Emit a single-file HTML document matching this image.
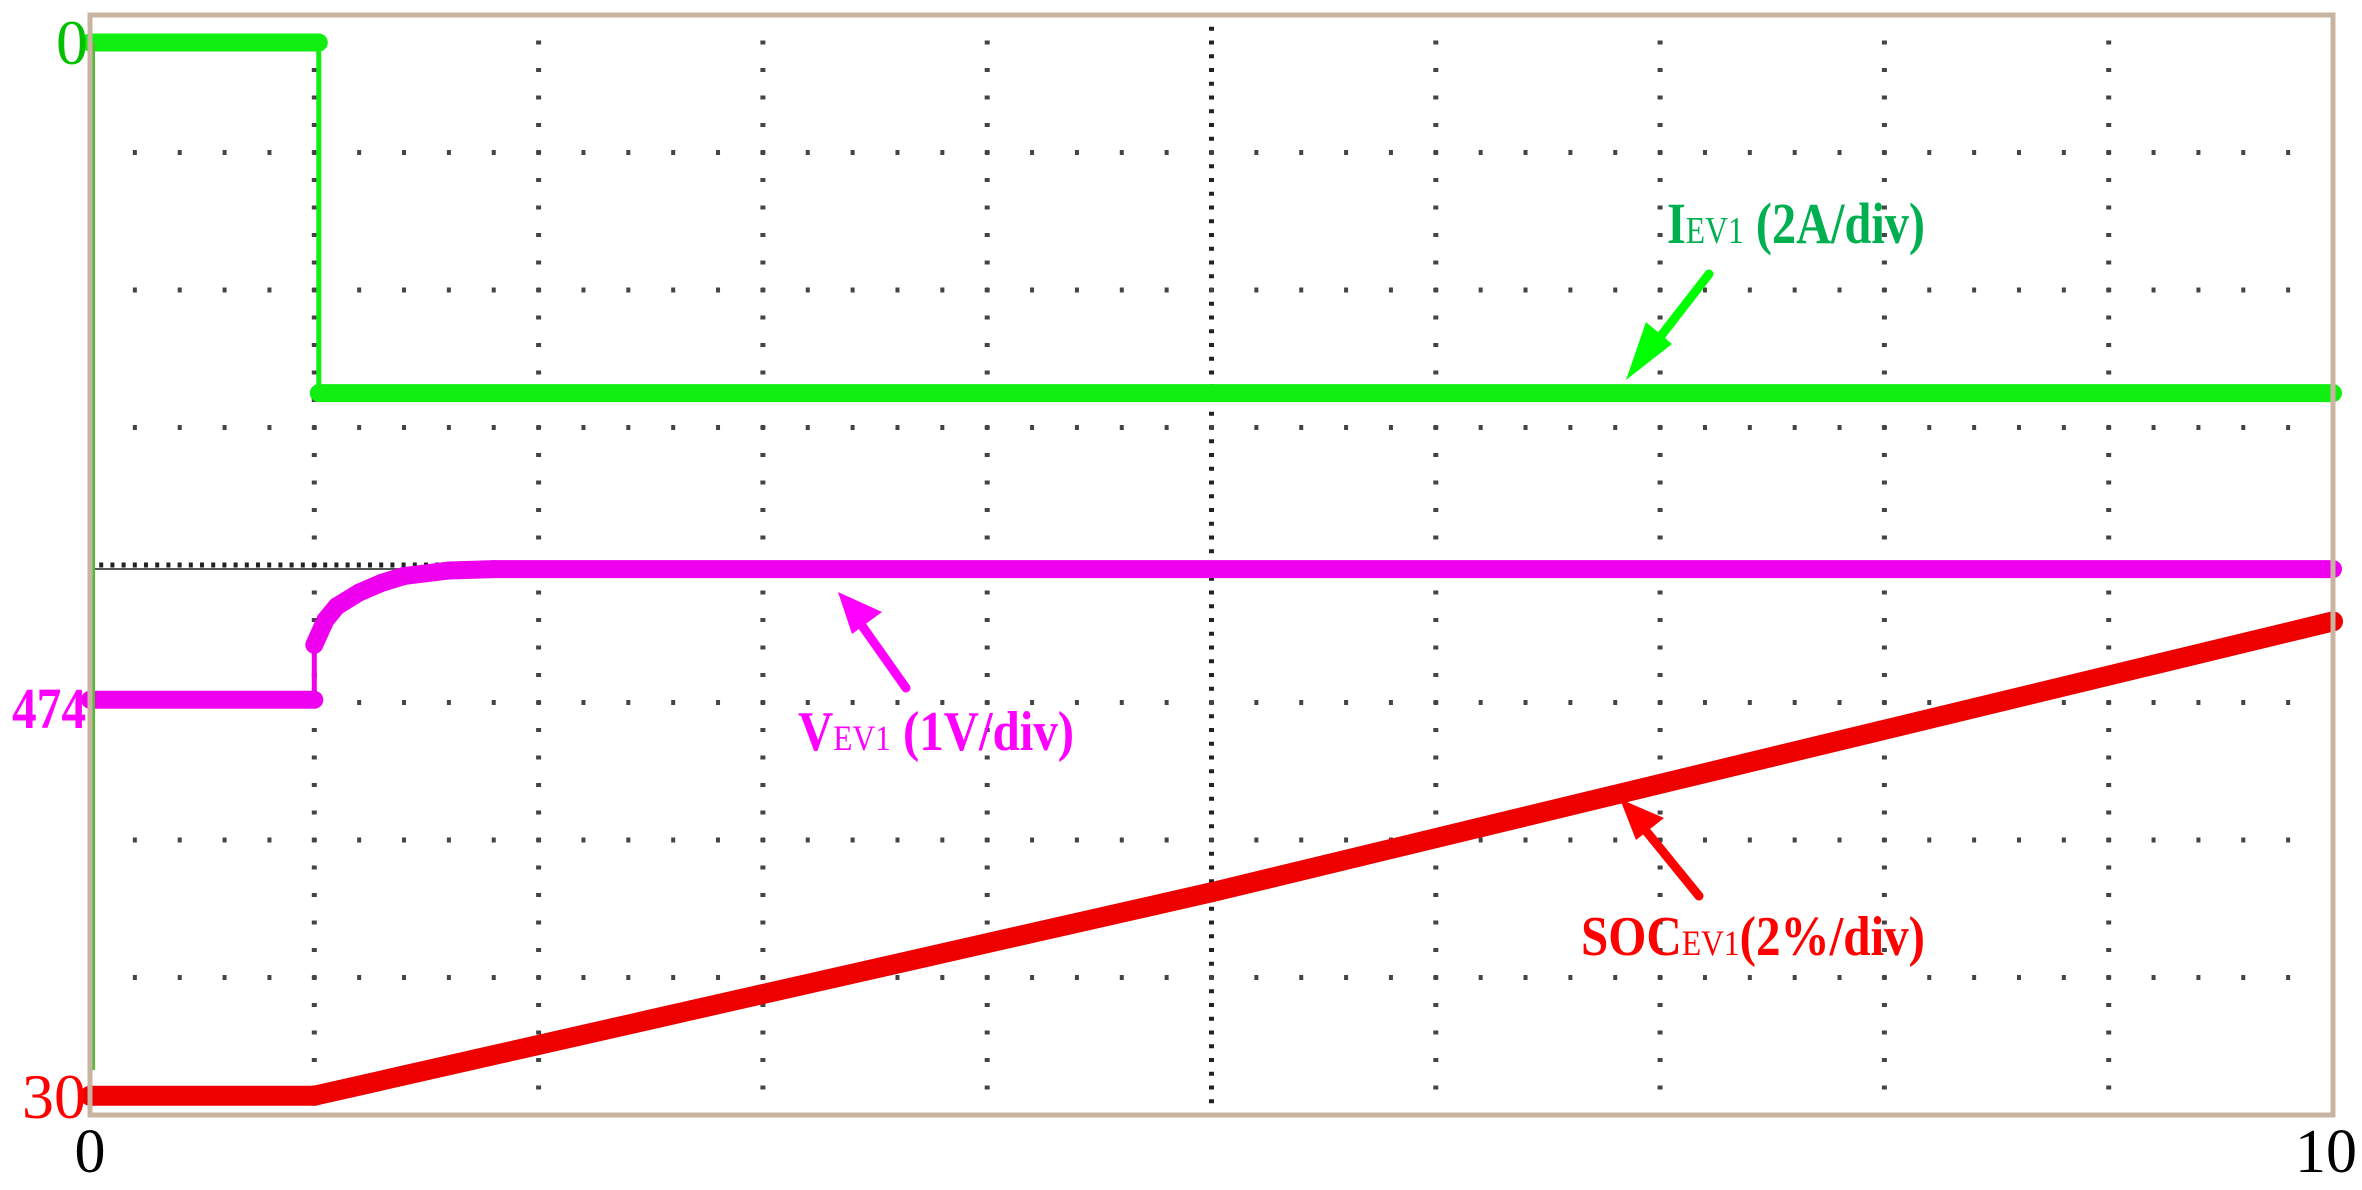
<!DOCTYPE html>
<html><head><meta charset="utf-8"><style>
html,body{margin:0;padding:0;background:#fff;}
svg{display:block;}
text{font-family:"Liberation Serif",serif;}
</style></head><body>
<svg id="chart" width="2362" height="1190" viewBox="0 0 2362 1190" xmlns="http://www.w3.org/2000/svg">
<g id="grid"></g>
<line x1="92" y1="569" x2="460" y2="569" stroke="#555" stroke-width="2"/>
<g id="traces"></g>
<rect x="90" y="15" width="2243" height="1100" fill="none" stroke="#c8b4a0" stroke-width="5"/>
<text x="88" y="64" text-anchor="end" font-size="64" fill="#00c000">0</text>
<text x="86" y="728" text-anchor="end" font-size="58" font-weight="bold" fill="#ff00ff" textLength="74" lengthAdjust="spacingAndGlyphs">474</text>
<text x="86" y="1118" text-anchor="end" font-size="64" fill="#ff0000">30</text>
<text x="90" y="1172" text-anchor="middle" font-size="62" fill="#000">0</text>
<text x="2326" y="1172" text-anchor="middle" font-size="62" fill="#000">10</text>
<text x="1667" y="243" font-size="58" font-weight="bold" fill="#00b050" textLength="258" lengthAdjust="spacingAndGlyphs">I<tspan font-size="38" font-weight="normal">EV1</tspan> (2A/div)</text>
<text x="798" y="750" font-size="56" font-weight="bold" fill="#ff00ff" textLength="276" lengthAdjust="spacingAndGlyphs">V<tspan font-size="36" font-weight="normal">EV1</tspan> (1V/div)</text>
<text x="1581" y="955" font-size="56" font-weight="bold" fill="#ff0000" textLength="344" lengthAdjust="spacingAndGlyphs">SOC<tspan font-size="36" font-weight="normal">EV1</tspan>(2%/div)</text>
<g><line x1="1709" y1="274" x2="1650" y2="350" stroke="#00ff00" stroke-width="9" stroke-linecap="round"/><polygon points="1626,380 1646,322 1672,344" fill="#00ff00"/></g>
<g><line x1="906" y1="688" x2="858" y2="620" stroke="#ff00ff" stroke-width="9" stroke-linecap="round"/><polygon points="838,592 882,612 852,634" fill="#ff00ff"/></g>
<g><line x1="1699" y1="896" x2="1642" y2="826" stroke="#ff0000" stroke-width="9" stroke-linecap="round"/><polygon points="1620,799 1664,818 1636,840" fill="#ff0000"/></g>
</svg>
<script>
// data (time in divisions 0..10, amplitude in vertical divisions from bottom)
const curT = [0, 1.02, 1.02, 10];
const curV = [7.8, 7.8, 5.25, 5.25];
const volT = [0, 1.0, 1.0, 1.05, 1.1, 1.2, 1.3, 1.4, 1.6, 1.8, 10];
const volV = [3.02, 3.02, 3.42, 3.6, 3.7, 3.8, 3.87, 3.92, 3.96, 3.97, 3.97];
const socT = [0, 1.0, 5.0, 10];
const socV = [0.14, 0.14, 1.62, 3.59];

const X0 = 90, X1 = 2333, Y0 = 1115, DIV_Y = 137.5;
function xs(t){ return X0 + t * (X1 - X0) / 10; }
function ys(v){ return Y0 - v * DIV_Y; }
const NS = 'http://www.w3.org/2000/svg';
const grid = document.getElementById('grid');
for (let i = 1; i < 10; i++) {
  const x = xs(i);
  const l = document.createElementNS(NS, 'line');
  
  
  l.setAttribute('x1', x); l.setAttribute('x2', x);
  l.setAttribute('y1', 15); l.setAttribute('y2', 1115);
  l.setAttribute('stroke', i === 5 ? '#222' : '#444');
  l.setAttribute('stroke-width', i === 5 ? 5 : 5);
  l.setAttribute('stroke-dasharray', i === 5 ? '4 9.75' : '4 23.5');
  l.setAttribute('stroke-dashoffset', '2');
  grid.appendChild(l);
}
for (let j = 1; j < 8; j++) {
  const y = ys(j);
  const l = document.createElementNS(NS, 'line');
  
  
  l.setAttribute('x1', 90); l.setAttribute('x2', 2333);
  l.setAttribute('y1', y); l.setAttribute('y2', y);
  l.setAttribute('stroke', j === 4 ? '#222' : '#444');
  l.setAttribute('stroke-width', j === 4 ? 5 : 5);
  l.setAttribute('stroke-dasharray', j === 4 ? '4 7.2' : '4 40.86');
  l.setAttribute('stroke-dashoffset', '2');
  grid.appendChild(l);
}
const traces = document.getElementById('traces');
function addTrace(T, V, color, w, name){
  for (let i = 1; i < T.length; i++) {
    const vertical = T[i] === T[i-1];
    const l = document.createElementNS(NS, 'line');
    l.setAttribute('x1', xs(T[i-1]).toFixed(1));
    l.setAttribute('y1', ys(V[i-1]).toFixed(1));
    l.setAttribute('x2', xs(T[i]).toFixed(1));
    l.setAttribute('y2', ys(V[i]).toFixed(1));
    l.setAttribute('stroke', color);
    l.setAttribute('stroke-width', vertical ? 5 : w);
    l.setAttribute('stroke-linecap', vertical ? 'butt' : 'round');
    
    
    traces.appendChild(l);
  }
}
addTrace(socT, socV, '#ee0000', 20, 'soc-trace');
addTrace(volT, volV, '#ee00ee', 18, 'voltage-trace');
addTrace(curT, curV, '#11ee11', 18, 'current-trace');
const g0 = document.createElementNS(NS, 'line');


g0.setAttribute('x1', xs(0) + 3); g0.setAttribute('x2', xs(0) + 3);
g0.setAttribute('y1', ys(7.8)); g0.setAttribute('y2', 1070);
g0.setAttribute('stroke', '#55bb33'); g0.setAttribute('stroke-width', 4);
traces.appendChild(g0);
</script>
</body></html>
